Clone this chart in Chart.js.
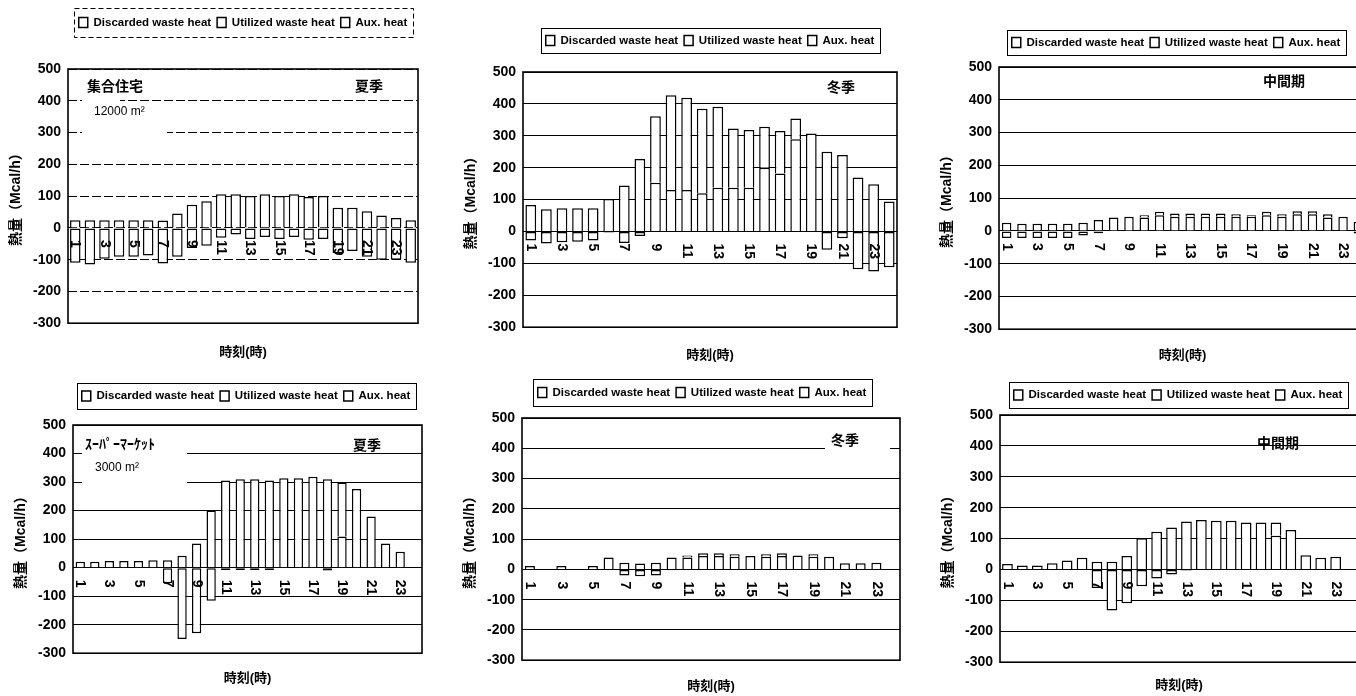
<!DOCTYPE html>
<html>
<head>
<meta charset="utf-8">
<script src="https://cdn.jsdelivr.net/npm/chart.js@4.4.1/dist/chart.umd.min.js"></script>
<style>
  html, body { margin: 0; padding: 0; background: #fff; width: 1356px; height: 696px; overflow: hidden; }
  #page { position: relative; width: 1356px; height: 696px; overflow: hidden; background: #fff; }
  #page canvas { position: absolute; }
</style>
</head>
<body>
<div id="page"></div>
<script>
// Hourly heat balance (Mcal/h) for two building types in three seasons.
const hours = ['1','2','3','4','5','6','7','8','9','10','11','12','13','14','15','16','17','18','19','20','21','22','23','24'];
const seriesNames = ['Discarded waste heat', 'Utilized waste heat', 'Aux. heat'];

// 集合住宅 12000 m² — 夏季
const resSummerDiscarded = [-110,-115,-97,-91,-91,-87,-112,-91,-63,-56,-31,-21,-35,-29,-35,-29,-37,-35,-80,-73,-91,-100,-100,-110];
const resSummerUtilized  = [24,24,24,24,24,24,23,45,73,84,106,106,100,106,100,106,97,100,63,63,52,39,31,24];
const resSummerAux       = [0,0,0,0,0,0,0,0,0,0,0,0,0,0,0,0,0,0,0,0,0,0,0,0];

// 集合住宅 — 冬季
const resWinterDiscarded = [-28,-38,-34,-32,-28,-3,-36,-14,0,0,0,0,0,0,0,0,0,0,0,-57,-21,-118,-125,-112];
const resWinterUtilized  = [83,70,73,73,73,102,144,227,153,130,130,120,137,137,137,200,182,289,307,250,240,169,148,94];
const resWinterAux       = [0,0,0,0,0,0,0,0,208,297,289,265,254,186,181,128,133,65,0,0,0,0,0,0];

// 集合住宅 — 中間期
const resMidDiscarded = [-22,-22,-22,-22,-22,-14,-7,0,0,0,0,0,0,0,0,0,0,0,0,0,0,0,0,-8];
const resMidUtilized  = [25,22,22,22,22,25,33,41,43,41,48,43,43,43,43,43,43,48,43,51,51,41,43,28];
const resMidAux       = [0,0,0,0,0,0,0,0,0,7,10,10,10,10,10,8,5,10,8,9,9,10,0,0];

// スーパーマーケット 3000 m² — 夏季
const mktSummerDiscarded = [0,0,0,0,0,0,-55,-250,-230,-116,-8,-8,-8,-8,-2,-2,-2,-10,0,0,0,0,0,0];
const mktSummerUtilized  = [21,21,23,23,23,26,26,42,85,200,305,310,310,305,313,313,319,310,109,276,179,85,56,0];
const mktSummerAux       = [0,0,0,0,0,0,0,0,0,0,0,0,0,0,0,0,0,0,189,0,0,0,0,0];

// スーパーマーケット — 冬季
const mktWinterDiscarded = [0,0,0,0,0,0,-20,-23,-20,-3,0,0,0,0,0,0,0,0,0,0,0,0,0,0];
const mktWinterUtilized  = [11,0,11,0,11,39,22,19,22,39,39,44,44,42,44,42,44,46,42,42,20,20,22,0];
const mktWinterAux       = [0,0,0,0,0,0,0,0,0,0,7,9,9,8,0,8,9,0,8,0,0,0,0,0];

// スーパーマーケット — 中間期
const mktMidDiscarded = [0,0,0,0,0,0,-60,-133,-109,-54,-29,-16,-3,0,0,0,0,0,0,0,0,0,0,0];
const mktMidUtilized  = [18,13,13,20,29,38,25,25,44,101,122,136,155,160,158,158,152,152,109,128,46,38,41,0];
const mktMidAux       = [0,0,0,0,0,0,0,0,0,0,0,0,0,0,0,0,0,0,43,0,0,0,0,0];

const yMin = -300, yMax = 500, yStep = 100;
const yTitle = '熱量（Mcal/h）';
const xTitle = '時刻(時)';

const FAMILY = "'Liberation Sans', 'Noto Sans CJK JP', sans-serif";
Chart.defaults.font.family = FAMILY;
Chart.defaults.color = '#000';

// Page layout of the six panels (plot rectangle, legend centre, captions).
const panels = [
  { plot: {l: 68, t: 69, r: 418, b: 323}, legend: {x: 243, y: 22.5, h: 29}, titleGap: 29, bar: 0.72, dash: [9, 3],
    series: [resSummerDiscarded, resSummerUtilized, resSummerAux],
    notes: [{text: '集合住宅', x: 87, y: 87, size: 14, bold: true},
            {text: '12000 m²', x: 94, y: 112, size: 12},
            {text: '夏季', x: 355, y: 87, size: 14, bold: true}],
    masks: [[82, 96, 38, 12], [82, 126, 85, 11]] },
  { plot: {l: 523, t: 72, r: 897, b: 327}, legend: {x: 710, y: 40.5, h: 25}, titleGap: 28, bar: 0.69, dash: [],
    series: [resWinterDiscarded, resWinterUtilized, resWinterAux],
    notes: [{text: '冬季', x: 827, y: 88, size: 14, bold: true}],
    masks: [] },
  { plot: {l: 999, t: 67, r: 1366, b: 329}, legend: {x: 1176, y: 42.5, h: 25}, titleGap: 26, bar: 0.62, dash: [],
    series: [resMidDiscarded, resMidUtilized, resMidAux],
    notes: [{text: '中間期', x: 1263, y: 82, size: 14, bold: true}],
    masks: [] },
  { plot: {l: 73, t: 425, r: 422, b: 653}, legend: {x: 246, y: 396, h: 26}, titleGap: 25, bar: 0.64, dash: [],
    series: [mktSummerDiscarded, mktSummerUtilized, mktSummerAux],
    notes: [{text: 'ｽｰﾊﾟｰﾏｰｹｯﾄ', x: 85, y: 445, size: 14, bold: true},
            {text: '3000 m²', x: 95, y: 468, size: 12},
            {text: '夏季', x: 353, y: 446, size: 14, bold: true}],
    masks: [[82, 446, 105, 42]] },
  { plot: {l: 522, t: 418, r: 900, b: 660}, legend: {x: 702, y: 392.5, h: 27}, titleGap: 26, bar: 0.64, dash: [],
    series: [mktWinterDiscarded, mktWinterUtilized, mktWinterAux],
    notes: [{text: '冬季', x: 831, y: 441, size: 14, bold: true}],
    masks: [[825, 432, 65, 20]] },
  { plot: {l: 1000, t: 415, r: 1358, b: 662}, legend: {x: 1178, y: 395, h: 26}, titleGap: 23, bar: 0.72, dash: [],
    series: [mktMidDiscarded, mktMidUtilized, mktMidAux],
    notes: [{text: '中間期', x: 1257, y: 444, size: 14, bold: true}],
    masks: [] }
];

const AXIS_W = 64;      // width reserved for y ticks + y title
const TOP_SPACE = 64;   // canvas space above the plot (legend lives here)
const LEGEND_PAD = 6;
const LEGEND_FONT = 11.5;
const LEGEND_BOX_W = 9;
const LEGEND_BOX_H = 10;
const LEGEND_ITEM_H = Math.max(LEGEND_FONT, LEGEND_BOX_H);
const LEGEND_HEIGHT = LEGEND_ITEM_H + LEGEND_PAD + 10;   // height Chart.js gives a one-row legend

// Places the legend, draws captions, the hour labels along the zero line and the plot frame.
const panelDecor = {
  id: 'panelDecor',
  beforeDraw(chart, args, o) {
    const lg = chart.legend;
    if (!lg) return;
    const half = 300;
    lg.left = o.legendX - half; lg.right = o.legendX + half; lg.width = 2 * half;
    lg.top = o.legendY - LEGEND_PAD - LEGEND_ITEM_H / 2;
    lg.bottom = lg.top + lg.height;
  },
  beforeDatasetsDraw(chart, args, o) {
    const ctx = chart.ctx;
    ctx.save();
    ctx.fillStyle = '#fff';
    o.masks.forEach(m => ctx.fillRect(m[0], m[1], m[2], m[3]));
    ctx.fillStyle = '#000';
    ctx.textAlign = 'left';
    ctx.textBaseline = 'middle';
    o.notes.forEach(n => {
      ctx.font = (n.bold ? 'bold ' : '') + n.size + 'px ' + FAMILY;
      ctx.fillText(n.text, n.x, n.y);
    });
    ctx.restore();
  },
  afterDatasetsDraw(chart, args, o) {
    const {ctx, chartArea: ca} = chart;
    const xs = chart.scales.x, ys = chart.scales.y;
    const y0 = ys.getPixelForValue(0);
    ctx.save();
    ctx.fillStyle = '#000';
    ctx.font = 'bold 14px ' + FAMILY;
    ctx.textAlign = 'left';
    ctx.textBaseline = 'middle';
    chart.data.labels.forEach((lab, i) => {
      if (i % 2 !== 0) return;
      ctx.save();
      ctx.translate(xs.getPixelForValue(i), y0 + 12);
      ctx.rotate(Math.PI / 2);
      ctx.fillText(lab, 0, 0);
      ctx.restore();
    });
    ctx.strokeStyle = '#000';
    ctx.lineWidth = 1.6;
    ctx.strokeRect(ca.left, ca.top, ca.right - ca.left, ca.bottom - ca.top);
    ctx.restore();
  },
  afterDraw(chart, args, o) {
    const lg = chart.legend;
    if (!lg || !lg.lineWidths) return;
    const ctx = chart.ctx;
    const cw = lg.lineWidths[0] - LEGEND_PAD;
    const w = cw + 10;
    ctx.save();
    ctx.strokeStyle = '#000';
    ctx.lineWidth = 1;
    ctx.setLineDash(o.legendDash);
    ctx.strokeRect(Math.round(o.legendX - w / 2) + 0.5, Math.round(o.legendY - o.legendH / 2) + 0.5, Math.round(w), o.legendH);
    ctx.restore();
  }
};

const page = document.getElementById('page');

panels.forEach(cfg => {
  const plotW = cfg.plot.r - cfg.plot.l;
  const plotH = cfg.plot.b - cfg.plot.t;
  const xAxisH = cfg.titleGap + 7.8 + 4;
  const left = cfg.plot.l - AXIS_W;
  const top = cfg.plot.t - TOP_SPACE;
  const width = AXIS_W + plotW + 2;
  const height = Math.round(TOP_SPACE + plotH + xAxisH);

  const canvas = document.createElement('canvas');
  canvas.width = width;
  canvas.height = height;
  canvas.style.left = left + 'px';
  canvas.style.top = top + 'px';
  canvas.style.width = width + 'px';
  canvas.style.height = height + 'px';
  page.appendChild(canvas);

  const local = (x, y) => [x - left, y - top];

  new Chart(canvas, {
    type: 'bar',
    data: {
      labels: hours,
      datasets: seriesNames.map((name, k) => ({
        label: name,
        data: cfg.series[k],
        backgroundColor: '#fff',
        borderColor: '#000',
        borderWidth: 1.5,
        borderSkipped: k === 0 ? false : 'start',
        barPercentage: cfg.bar,
        categoryPercentage: 1
      }))
    },
    options: {
      responsive: false,
      animation: false,
      events: [],
      layout: { padding: { top: TOP_SPACE - LEGEND_HEIGHT, right: 2, left: 0, bottom: 0 } },
      plugins: {
        tooltip: { enabled: false },
        legend: {
          display: true,
          position: 'top',
          labels: { boxWidth: LEGEND_BOX_W, boxHeight: LEGEND_BOX_H, padding: LEGEND_PAD, color: '#000',
                    font: { size: LEGEND_FONT, weight: 'bold' } }
        },
        panelDecor: {
          legendX: cfg.legend.x - left,
          legendY: cfg.legend.y - top,
          legendH: cfg.legend.h,
          legendDash: cfg.dash.length ? [5, 3] : [],
          notes: cfg.notes.map(n => { const p = local(n.x, n.y); return {text: n.text, x: p[0], y: p[1], size: n.size, bold: n.bold}; }),
          masks: cfg.masks.map(m => { const p = local(m[0], m[1]); return [p[0], p[1], m[2], m[3]]; })
        }
      },
      scales: {
        x: {
          stacked: true,
          ticks: { display: false },
          grid: { display: false },
          border: { display: false },
          title: { display: true, text: xTitle, color: '#000', font: { size: 13, weight: 'bold' }, padding: { top: 4, bottom: 4 } },
          afterFit(scale) { scale.height = xAxisH; }
        },
        y: {
          stacked: true,
          min: yMin,
          max: yMax,
          ticks: { stepSize: yStep, color: '#000', padding: 7, font: { size: 14, weight: 'bold' } },
          grid: { color: '#000', lineWidth: 1, drawTicks: false },
          border: { display: false, dash: cfg.dash },
          title: { display: true, text: yTitle, color: '#000', font: { size: 14, weight: 'bold' }, padding: { top: 4, bottom: 4 } },
          afterFit(scale) { scale.width = AXIS_W; }
        }
      }
    },
    plugins: [panelDecor]
  });
});
</script>
</body>
</html>
